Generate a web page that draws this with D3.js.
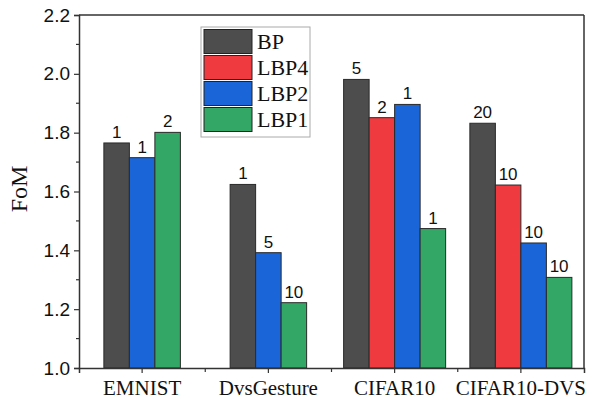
<!DOCTYPE html>
<html>
<head>
<meta charset="utf-8">
<script src="https://cdn.jsdelivr.net/npm/d3@7"></script>
<style>
  html, body { margin: 0; padding: 0; background: #fff; }
  svg { display: block; }
</style>
</head>
<body>
<svg id="chart" width="589" height="400"></svg>
<script>
// Datasets and training methods
const categories = ["EMNIST", "DvsGesture", "CIFAR10", "CIFAR10-DVS"];
const seriesNames = ["BP", "LBP4", "LBP2", "LBP1"];

// FoM per dataset (null = not evaluated)
const bpValues   = [1.765, 1.624, 1.981, 1.832];
const lbp4Values = [null,  null,  1.851, 1.622];
const lbp2Values = [1.715, 1.392, 1.896, 1.425];
const lbp1Values = [1.801, 1.222, 1.474, 1.308];

// Numbers printed above each bar
const bpNotes   = ["1", "1", "5", "20"];
const lbp4Notes = [null, null, "2", "10"];
const lbp2Notes = ["1", "5", "1", "10"];
const lbp1Notes = ["2", "10", "1", "10"];

const yTicks = [1.0, 1.2, 1.4, 1.6, 1.8, 2.0, 2.2];

const colors = ["#4d4d4d", "#ef3b3f", "#1a66d9", "#32a766"];

const seriesValues = [bpValues, lbp4Values, lbp2Values, lbp1Values];
const seriesNotes  = [bpNotes, lbp4Notes, lbp2Notes, lbp1Notes];

const svg = d3.select("#chart");
const plotL = 79, plotR = 584, plotT = 15, plotB = 368;

const x = d3.scaleBand().domain(categories).range([plotL, plotR]).padding(0);
const y = d3.scaleLinear().domain([1.0, 2.2]).range([plotB, plotT]);

const barW = x.bandwidth() * 0.202;

const numFont = "'Liberation Sans', Arial, sans-serif";
const serifFont = "'Liberation Serif', 'Times New Roman', serif";

// Build bar records, centring only the bars that exist in each group
const bars = [];
categories.forEach((cat, ci) => {
  const present = seriesNames
    .map((name, si) => ({ name, si, value: seriesValues[si][ci], note: seriesNotes[si][ci] }))
    .filter(d => d.value !== null);
  const n = present.length;
  const cx = x(cat) + x.bandwidth() / 2;
  present.forEach((d, k) => {
    bars.push({ cat, ...d, x0: cx + (k - n / 2) * barW });
  });
});

// Bars
svg.append("g").selectAll("rect").data(bars).join("rect")
  .attr("x", d => d.x0)
  .attr("y", d => y(d.value))
  .attr("width", barW)
  .attr("height", d => y(1.0) - y(d.value))
  .attr("fill", d => colors[d.si])
  .attr("stroke", "#2a2a2a")
  .attr("stroke-width", 1);

// Value notes above bars
svg.append("g").selectAll("text").data(bars).join("text")
  .attr("x", d => d.x0 + barW / 2)
  .attr("y", d => y(d.value) - 5)
  .attr("text-anchor", "middle")
  .attr("font-family", numFont)
  .attr("font-size", 17)
  .attr("fill", "#111")
  .text(d => d.note);

// Frame (top and right)
svg.append("line").attr("x1", plotL).attr("x2", plotR).attr("y1", plotT).attr("y2", plotT)
  .attr("stroke", "#333").attr("stroke-width", 1.5);
svg.append("line").attr("x1", plotR).attr("x2", plotR).attr("y1", plotT).attr("y2", plotB)
  .attr("stroke", "#333").attr("stroke-width", 1.5);

// Left axis: major + minor ticks
const yAxis = d3.axisLeft(y).tickValues(yTicks).tickFormat(d3.format(".1f")).tickSize(5).tickPadding(4);
const gy = svg.append("g").attr("transform", `translate(${plotL},0)`).call(yAxis);
gy.select(".domain").attr("stroke", "#333").attr("stroke-width", 1.5);
gy.selectAll(".tick line").attr("stroke", "#333").attr("stroke-width", 1.2);
gy.selectAll(".tick text").attr("font-family", numFont).attr("font-size", 19).attr("fill", "#111");
const minor = d3.range(1.1, 2.2, 0.2);
svg.append("g").selectAll("line").data(minor).join("line")
  .attr("x1", plotL - 3).attr("x2", plotL)
  .attr("y1", d => y(d)).attr("y2", d => y(d))
  .attr("stroke", "#333").attr("stroke-width", 1.2);

// Bottom axis: category ticks + boundary ticks
const xAxis = d3.axisBottom(x).tickSize(5).tickPadding(7);
const gx = svg.append("g").attr("transform", `translate(0,${plotB})`).call(xAxis);
gx.select(".domain").attr("stroke", "#333").attr("stroke-width", 1.5);
gx.selectAll(".tick line").attr("stroke", "#333").attr("stroke-width", 1.2);
gx.selectAll(".tick text").attr("font-family", serifFont).attr("font-size", 21).attr("fill", "#111");
svg.append("g").selectAll("line").data(categories.slice(1)).join("line")
  .attr("x1", d => x(d)).attr("x2", d => x(d))
  .attr("y1", plotB).attr("y2", plotB + 4)
  .attr("stroke", "#333").attr("stroke-width", 1.2);

// Y axis title
svg.append("text")
  .attr("transform", "translate(27,189) rotate(-90)")
  .attr("text-anchor", "middle")
  .attr("font-family", serifFont)
  .attr("font-size", 24)
  .attr("fill", "#111")
  .text("FoM");

// Legend
const lg = svg.append("g");
lg.append("rect").attr("x", 201).attr("y", 27).attr("width", 109).attr("height", 110)
  .attr("fill", "#fff").attr("stroke", "#aaa").attr("stroke-width", 1);
seriesNames.forEach((name, i) => {
  const yy = 29.5 + i * 26;
  lg.append("rect").attr("x", 204).attr("y", yy).attr("width", 48).attr("height", 24)
    .attr("fill", colors[i]).attr("stroke", "#222").attr("stroke-width", 1);
  lg.append("text").attr("x", 257).attr("y", yy + 12).attr("dy", "0.35em")
    .attr("font-family", serifFont).attr("font-size", 22).attr("fill", "#111")
    .text(name);
});
</script>
</body>
</html>
